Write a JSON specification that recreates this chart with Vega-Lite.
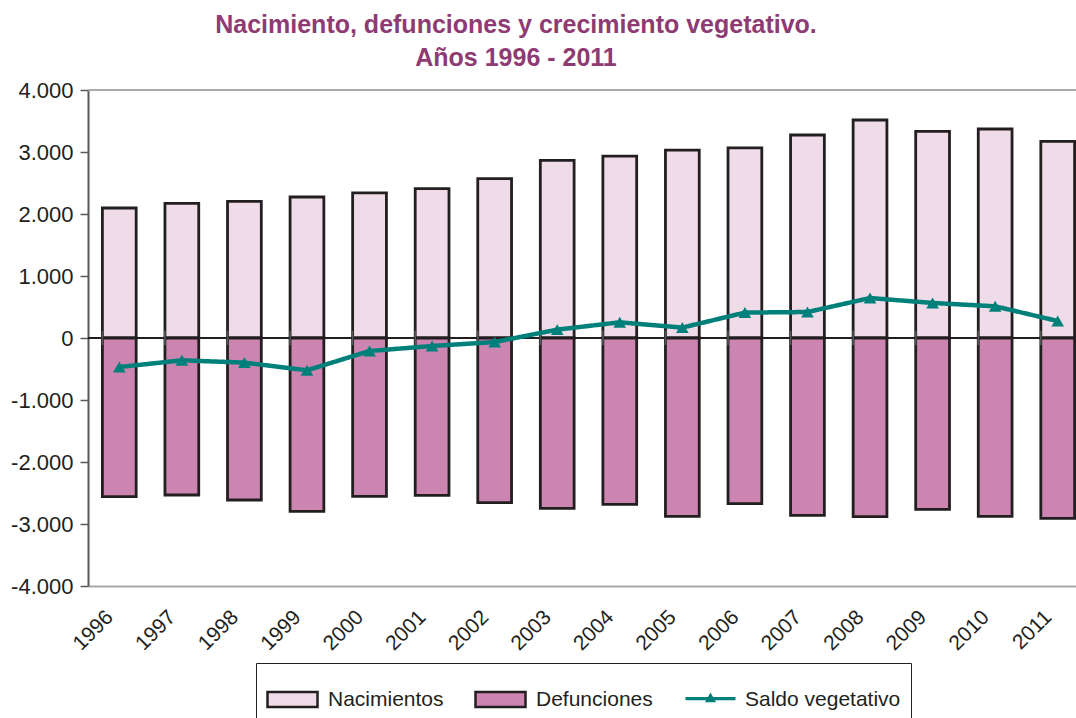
{
  "$schema": "https://vega.github.io/schema/vega-lite/v6.json",
  "width": 988,
  "height": 496,
  "autosize": "none",
  "padding": {"left": 88, "top": 90, "right": 0, "bottom": 132},
  "config": {
    "view": {"stroke": null},
    "font": "Liberation Sans",
    "locale": {"number": {"decimal": ",", "thousands": ".", "grouping": [3], "currency": ["", " €"], "minus": "-"}}
  },
  "title": {
    "text": ["Nacimiento, defunciones y crecimiento vegetativo.", "Años 1996 - 2011"],
    "fontSize": 25,
    "fontWeight": "bold",
    "color": "#8E3A73",
    "font": "Liberation Sans",
    "anchor": "middle",
    "frame": "group",
    "dx": -66,
    "offset": 8,
    "lineHeight": 33
  },
  "data": {
    "values": [
      {"year": "1996", "serie": "Nacimientos", "value": 2097},
      {"year": "1997", "serie": "Nacimientos", "value": 2172},
      {"year": "1998", "serie": "Nacimientos", "value": 2205},
      {"year": "1999", "serie": "Nacimientos", "value": 2274},
      {"year": "2000", "serie": "Nacimientos", "value": 2340},
      {"year": "2001", "serie": "Nacimientos", "value": 2410},
      {"year": "2002", "serie": "Nacimientos", "value": 2571},
      {"year": "2003", "serie": "Nacimientos", "value": 2866},
      {"year": "2004", "serie": "Nacimientos", "value": 2935},
      {"year": "2005", "serie": "Nacimientos", "value": 3030},
      {"year": "2006", "serie": "Nacimientos", "value": 3065},
      {"year": "2007", "serie": "Nacimientos", "value": 3274},
      {"year": "2008", "serie": "Nacimientos", "value": 3516},
      {"year": "2009", "serie": "Nacimientos", "value": 3334},
      {"year": "2010", "serie": "Nacimientos", "value": 3371},
      {"year": "2011", "serie": "Nacimientos", "value": 3172},
      {"year": "1996", "serie": "Defunciones", "value": -2558},
      {"year": "1997", "serie": "Defunciones", "value": -2532},
      {"year": "1998", "serie": "Defunciones", "value": -2613},
      {"year": "1999", "serie": "Defunciones", "value": -2795},
      {"year": "2000", "serie": "Defunciones", "value": -2553},
      {"year": "2001", "serie": "Defunciones", "value": -2537},
      {"year": "2002", "serie": "Defunciones", "value": -2655},
      {"year": "2003", "serie": "Defunciones", "value": -2747},
      {"year": "2004", "serie": "Defunciones", "value": -2682},
      {"year": "2005", "serie": "Defunciones", "value": -2876},
      {"year": "2006", "serie": "Defunciones", "value": -2671},
      {"year": "2007", "serie": "Defunciones", "value": -2860},
      {"year": "2008", "serie": "Defunciones", "value": -2881},
      {"year": "2009", "serie": "Defunciones", "value": -2763},
      {"year": "2010", "serie": "Defunciones", "value": -2876},
      {"year": "2011", "serie": "Defunciones", "value": -2908},
      {"year": "1996", "serie": "Saldo vegetativo", "value": -468},
      {"year": "1997", "serie": "Saldo vegetativo", "value": -360},
      {"year": "1998", "serie": "Saldo vegetativo", "value": -397},
      {"year": "1999", "serie": "Saldo vegetativo", "value": -521},
      {"year": "2000", "serie": "Saldo vegetativo", "value": -210},
      {"year": "2001", "serie": "Saldo vegetativo", "value": -129},
      {"year": "2002", "serie": "Saldo vegetativo", "value": -65},
      {"year": "2003", "serie": "Saldo vegetativo", "value": 135},
      {"year": "2004", "serie": "Saldo vegetativo", "value": 253},
      {"year": "2005", "serie": "Saldo vegetativo", "value": 168},
      {"year": "2006", "serie": "Saldo vegetativo", "value": 410},
      {"year": "2007", "serie": "Saldo vegetativo", "value": 419},
      {"year": "2008", "serie": "Saldo vegetativo", "value": 645},
      {"year": "2009", "serie": "Saldo vegetativo", "value": 565},
      {"year": "2010", "serie": "Saldo vegetativo", "value": 511},
      {"year": "2011", "serie": "Saldo vegetativo", "value": 274}
    ]
  },
  "encoding": {
    "x": {
      "field": "year",
      "type": "nominal",
      "sort": null,
      "scale": {"type": "band", "range": [0, 1001], "paddingInner": 0.46, "paddingOuter": 0.23},
      "axis": {
        "title": null,
        "labelAngle": -45,
        "labelFontSize": 21,
        "labelColor": "#231F20",
        "labelPadding": 20,
        "labelOffset": -17,
        "ticks": false,
        "domainColor": "#A7A9AC",
        "domainWidth": 2
      }
    },
    "y": {
      "field": "value",
      "type": "quantitative",
      "scale": {"domain": [-4000, 4000], "nice": false, "zero": false},
      "axis": {
        "title": null,
        "values": [-4000, -3000, -2000, -1000, 0, 1000, 2000, 3000, 4000],
        "format": ",d",
        "grid": false,
        "labelFontSize": 22,
        "labelColor": "#231F20",
        "labelPadding": 7,
        "tickSize": 8,
        "tickColor": "#58595B",
        "tickWidth": 1.5,
        "domainColor": "#58595B",
        "domainWidth": 2
      }
    }
  },
  "layer": [
    {
      "transform": [{"filter": "datum.serie !== 'Saldo vegetativo'"}],
      "mark": {"type": "bar", "stroke": "#231F20", "strokeWidth": 2.8},
      "encoding": {
        "y": {"field": "value", "type": "quantitative", "stack": null},
        "color": {
          "field": "serie",
          "type": "nominal",
          "scale": {"domain": ["Nacimientos", "Defunciones", "Saldo vegetativo"], "range": ["#F0DCE8", "#CC84B0", "#00807A"]},
          "legend": {
            "title": null,
            "orient": "none",
            "direction": "horizontal",
            "legendX": 168,
            "legendY": 573,
            "strokeColor": "#231F20",
            "padding": 10,
            "labelFontSize": 21,
            "labelColor": "#231F20",
            "labelOffset": 9,
            "columnPadding": 26,
            "symbolSize": 2500,
            "symbolType": "M-1,-0.3H1V0.3H-1Z",
            "symbolStrokeWidth": 2.5
          }
        }
      }
    },
    {
      "mark": {"type": "rule", "color": "#231F20", "strokeWidth": 1.5},
      "encoding": {"y": {"datum": 0}, "x": {"value": 0}, "x2": {"value": 1001}}
    },
    {
      "transform": [{"filter": "datum.serie === 'Nacimientos'"}],
      "mark": {"type": "rule", "color": "#58595B", "strokeWidth": 1.5},
      "encoding": {
        "x": {"field": "year", "type": "nominal", "sort": null, "bandPosition": 0},
        "y": {"datum": -115},
        "y2": {"datum": 115}
      }
    },
    {
      "mark": {"type": "rule", "color": "#A7A9AC", "strokeWidth": 2},
      "encoding": {"y": {"datum": 4000}, "x": {"value": 0}, "x2": {"value": 1001}}
    },
    {
      "transform": [{"filter": "datum.serie === 'Saldo vegetativo'"}],
      "mark": {
        "type": "line",
        "color": "#00807A",
        "strokeWidth": 4.5,
        "point": {"shape": "triangle-up", "size": 160, "filled": true, "color": "#00807A"}
      },
      "encoding": {
        "strokeDash": {
          "field": "serie",
          "type": "nominal",
          "scale": {"range": [[1, 0]]},
          "legend": {
            "title": null,
            "orient": "none",
            "direction": "horizontal",
            "legendX": 589,
            "legendY": 575,
            "fillColor": "white",
            "strokeColor": null,
            "padding": 8,
            "labelExpr": "''",
            "labelOffset": 0,
            "labelFontSize": 1,
            "symbolSize": 2500,
            "symbolType": "M-1,-0.065H1V0.065H-1Z M0,-0.24L0.22,0.15H-0.22Z",
            "symbolStrokeColor": "#00807A",
            "symbolFillColor": "#00807A",
            "symbolStrokeWidth": 0.5
          }
        }
      }
    }
  ]
}
